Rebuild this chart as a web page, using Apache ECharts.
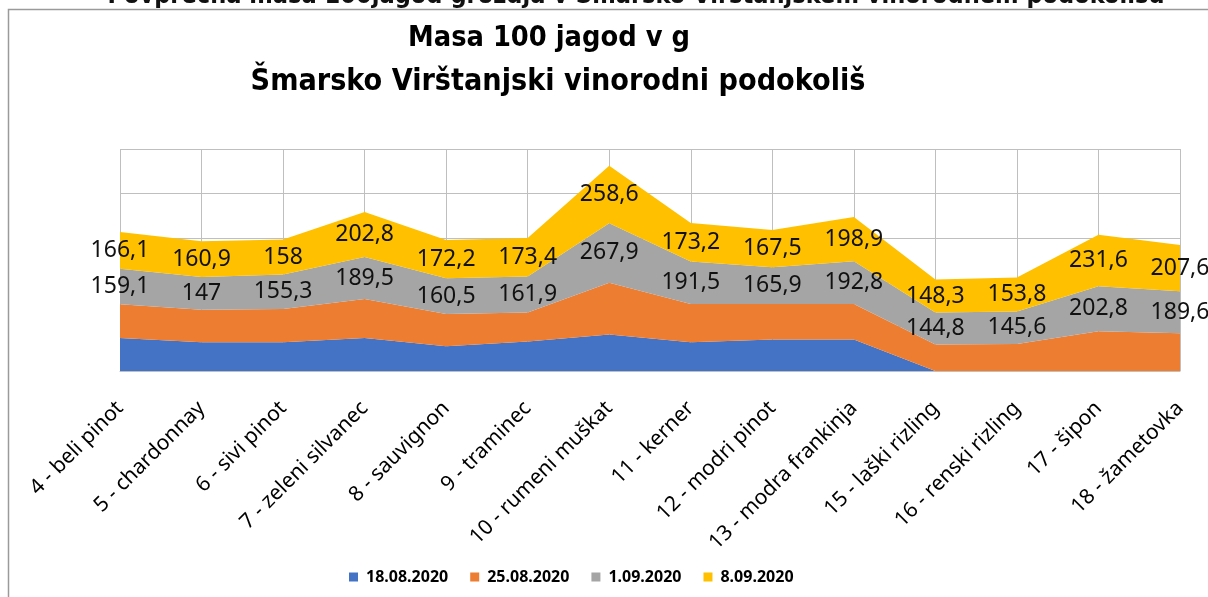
<!DOCTYPE html>
<html><head><meta charset="utf-8">
<script src="https://cdn.jsdelivr.net/npm/echarts@6/dist/echarts.min.js"></script>
<style>html,body{margin:0;padding:0;background:#fff;overflow:hidden}#c{width:1208px;height:597px}</style>
</head><body><div id="c"></div>
<script>
const categories = ['4 - beli pinot','5 - chardonnay','6 - sivi pinot','7 - zeleni silvanec','8 - sauvignon','9 - traminec','10 - rumeni muškat','11 - kerner','12 - modri pinot','13 - modra frankinja','15 - laški rizling','16 - renski rizling','17 - šipon','18 - žametovka'];
const seriesNames = ['18.08.2020','25.08.2020','1.09.2020','8.09.2020'];
const s18_08 = [149,130,130,149,112,133,164,130,142,142,0,0,0,0];
const s25_08 = [152,146,149,175,145,131,234,172,160,160,119,122,179,170];
const s01_09 = [159.1,147,155.3,189.5,160.5,161.9,267.9,191.5,165.9,192.8,144.8,145.6,202.8,189.6];
const s08_09 = [166.1,160.9,158,202.8,172.2,173.4,258.6,173.2,167.5,198.9,148.3,153.8,231.6,207.6];
const yMin = 0, yMax = 1000, yStep = 200;
const colors = ['#4472C4','#ED7D31','#A5A5A5','#FFC000'];
const titleLine1 = 'Masa 100 jagod v g';
const titleLine2 = 'Šmarsko Virštanjski vinorodni podokoliš';
const topText = 'Povprečna masa 100jagod grozdja v Šmarsko Virštanjskem vinorodnem podokolišu';

const fmt = v => String(v).replace('.', ',');
const titleFamily = "'Liberation Sans Narrow','DejaVu Sans Condensed','Liberation Sans',sans-serif";
const cv = document.createElement('canvas').getContext('2d');
function fit(text, family, weight, w) {
  cv.font = weight + ' 100px ' + family;
  return 100 * w / cv.measureText(text).width;
}
const fs1 = fit(titleLine1, titleFamily, 'bold', 282);
const fs2 = fit(titleLine2, titleFamily, 'bold', 616);
const fsTop = fit(topText, titleFamily, 'bold', 1057);

const stackVals = [s18_08, s25_08, s01_09, s08_09];
function midPoints(k) {
  return categories.map((c, i) => {
    let base = 0;
    for (let j = 0; j < k; j++) base += stackVals[j][i];
    return [i, base + stackVals[k][i] / 2, stackVals[k][i]];
  });
}

const chart = echarts.init(document.getElementById('c'), null, {renderer: 'canvas'});
const areaSeries = seriesNames.map((n, k) => ({
  name: n, type: 'line', stack: 'total', data: stackVals[k],
  symbol: 'none', showSymbol: false, smooth: false,
  lineStyle: {width: 0, color: colors[k]},
  itemStyle: {color: colors[k]},
  areaStyle: {color: colors[k], opacity: 1},
  z: 2
}));
const labelSeries = [2, 3].map(k => ({
  type: 'scatter', data: midPoints(k), symbol: 'circle', symbolSize: 1,
  itemStyle: {color: 'transparent', opacity: 1}, silent: true, z: 10,
  label: {show: true, position: 'inside', formatter: p => fmt(p.value[2]),
    fontFamily: "'Noto Sans',sans-serif", fontSize: 23, color: '#111', opacity: 1, textBorderWidth: 0}
}));

chart.setOption({
  animation: false,
  backgroundColor: '#fff',
  color: colors,
  graphic: [
    {type: 'rect', shape: {x: 8.5, y: 9.5, width: 1400, height: 800}, style: {fill: 'none', stroke: '#9a9a9a', lineWidth: 1.5}, z: 0, silent: true},
    {type: 'text', x: 636, y: -16, style: {text: topText, font: 'bold ' + fsTop.toFixed(1) + 'px ' + titleFamily, fill: '#111', textAlign: 'center', textVerticalAlign: 'top'}, silent: true},
    {type: 'text', x: 549, y: 39, style: {text: titleLine1, font: 'bold ' + fs1.toFixed(1) + 'px ' + titleFamily, fill: '#000', textAlign: 'center', textVerticalAlign: 'middle'}, silent: true},
    {type: 'text', x: 558, y: 82, style: {text: titleLine2, font: 'bold ' + fs2.toFixed(1) + 'px ' + titleFamily, fill: '#000', textAlign: 'center', textVerticalAlign: 'middle'}, silent: true}
  ],
  grid: {left: 120, right: 28, top: 149, bottom: 226, containLabel: false},
  legend: {
    data: seriesNames, left: 344, top: 563, icon: 'rect', itemWidth: 9, itemHeight: 9, itemGap: 22,
    textStyle: {fontFamily: "'Noto Sans',sans-serif", fontWeight: 'bold', fontSize: 16, color: '#000', padding: [0,0,0,3], lineHeight: 18},
    selectedMode: false
  },
  xAxis: {
    type: 'category', data: categories, boundaryGap: false,
    axisLine: {show: true, lineStyle: {color: '#bfbfbf'}},
    axisTick: {show: false},
    splitLine: {show: true, lineStyle: {color: '#bfbfbf', width: 1}},
    axisLabel: {interval: 0, rotate: 45, margin: 34, fontFamily: "'Noto Sans',sans-serif", fontSize: 21, color: '#000'}
  },
  yAxis: {
    type: 'value', min: yMin, max: yMax, interval: yStep,
    axisLine: {show: false}, axisTick: {show: false}, axisLabel: {show: false},
    splitLine: {show: true, lineStyle: {color: '#bfbfbf', width: 1}}
  },
  series: areaSeries.concat(labelSeries)
});
</script></body></html>
